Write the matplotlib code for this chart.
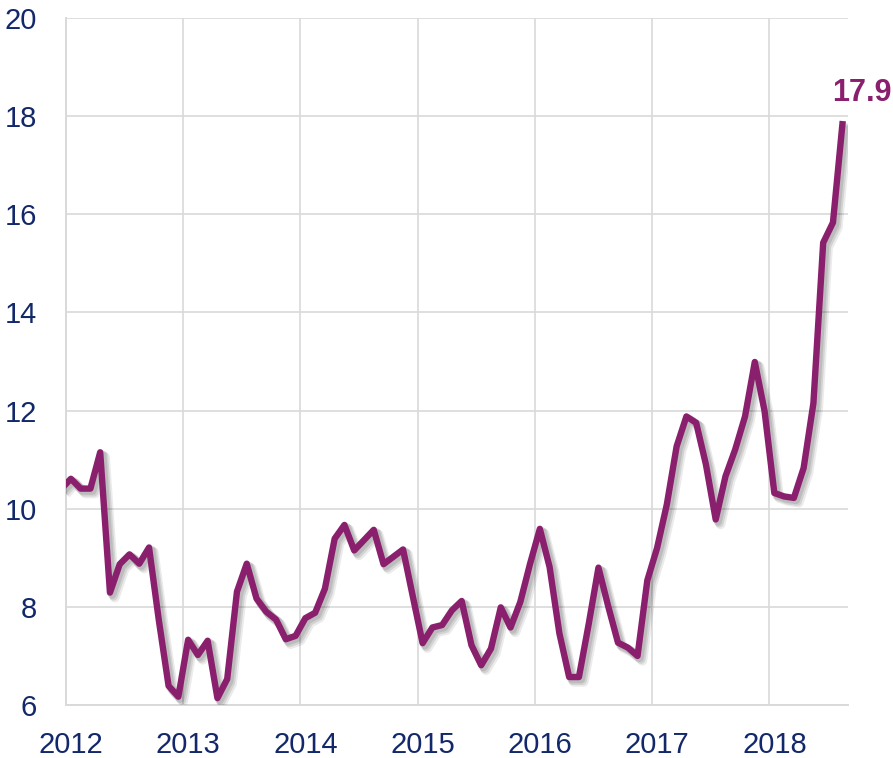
"""Monthly series 2012-2018 with last-value callout."""

import matplotlib

matplotlib.use("Agg")
import matplotlib.patheffects as pe  # noqa: E402
import matplotlib.pyplot as plt  # noqa: E402
import matplotlib.transforms as mtransforms  # noqa: E402
import pandas as pd  # noqa: E402

LINE = "#8a1f6e"
TEXT = "#12286a"
GRID = "#d9d9d9"

# monthly values, Dec 2011 .. Aug 2018 (plotted mid-month)
START, END = "2011-12", "2018-08"
values = [
    10.40,
    10.61, 10.41, 10.41, 11.15, 8.29, 8.87, 9.07, 8.88, 9.21, 7.73, 6.39, 6.17,
    7.33, 7.02, 7.31, 6.14, 6.53, 8.31, 8.88, 8.17, 7.90, 7.74, 7.34, 7.41,
    7.77, 7.88, 8.37, 9.39, 9.67, 9.15, 9.36, 9.57, 8.87, 9.02, 9.17, 8.21,
    7.26, 7.58, 7.63, 7.93, 8.12, 7.22, 6.81, 7.15, 7.99, 7.58, 8.10, 8.88,
    9.59, 8.81, 7.46, 6.57, 6.57, 7.65, 8.80, 8.01, 7.27, 7.17, 7.00, 8.54,
    9.20, 10.09, 11.27, 11.88, 11.75, 10.90, 9.78, 10.66, 11.21, 11.88, 12.99, 11.99,
    10.32, 10.25, 10.22, 10.83, 12.15, 15.42, 15.83, 17.90,
]
years = [2012, 2013, 2014, 2015, 2016, 2017, 2018]
yticks = [6, 8, 10, 12, 14, 16, 18, 20]

months = pd.period_range(START, END, freq="M")
x = [m.year + (m.month - 0.5) / 12 for m in months]

plt.rcParams["font.family"] = ["Liberation Sans", "DejaVu Sans"]

fig = plt.figure(figsize=(8.93, 7.58), dpi=100)
ax = fig.add_axes([0.0739, 0.0699, 0.8757, 0.9064])

# soft grey drop shadow under the line
shadow = [
    pe.SimpleLineShadow(offset=(1.5, -1.5), shadow_color="k", alpha=0.10, linewidth=6.0),
    pe.SimpleLineShadow(offset=(2.5, -2.5), shadow_color="k", alpha=0.10, linewidth=6.5),
    pe.SimpleLineShadow(offset=(3.5, -3.5), shadow_color="k", alpha=0.08, linewidth=7.0),
    pe.Normal(),
]
ax.plot(x, values, color=LINE, lw=4.6, solid_joinstyle="round",
        solid_capstyle="butt", path_effects=shadow, zorder=3)

ax.set_xlim(2012, 2018.67)
ax.set_ylim(6, 20)
ax.set_xticks(years)
ax.set_yticks(yticks)
ax.tick_params(length=0, labelsize=21, labelcolor=TEXT)
ax.tick_params(axis="y", pad=21)
ax.tick_params(axis="x", pad=19)
off = mtransforms.ScaledTranslation(5 / 100, 0, fig.dpi_scale_trans)
for lab in ax.get_xticklabels():
    lab.set_transform(lab.get_transform() + off)

ax.grid(True, color=GRID, lw=1.2, zorder=0)
ax.set_axisbelow(True)
for side in ("top", "right"):
    ax.spines[side].set_visible(False)
for side in ("left", "bottom"):
    ax.spines[side].set_color(GRID)
    ax.spines[side].set_linewidth(1.4)

ax.annotate(f"{values[-1]:.1f}", xy=(x[-1], values[-1]), xytext=(13.5, 20.5),
            textcoords="offset points", ha="center", va="center",
            fontsize=22, fontweight="bold", color=LINE, annotation_clip=False)

fig.savefig("out.png", dpi=100)
